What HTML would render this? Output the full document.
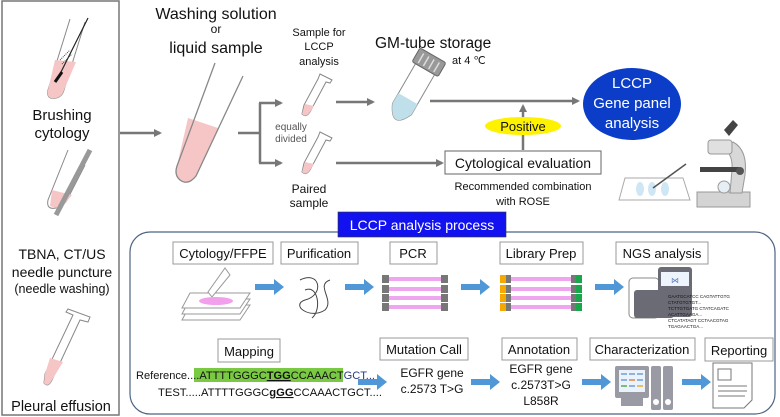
<!DOCTYPE html>
<html><head><meta charset="utf-8"><style>
html,body{margin:0;padding:0;background:#fff}
svg{display:block}
text{font-family:"Liberation Sans",Arial,sans-serif;fill:#111}
</style></head><body>
<svg width="780" height="417" viewBox="0 0 780 417" xmlns="http://www.w3.org/2000/svg">
<defs>
<marker id="ga" markerWidth="8" markerHeight="8" refX="6" refY="4" orient="auto" markerUnits="userSpaceOnUse"><path d="M0,0 L8,4 L0,8 z" fill="#777"/></marker>
</defs>
<!-- left panel -->
<rect x="2" y="1" width="117" height="414" fill="#fff" stroke="#777" stroke-width="1.5"/>
<path d="M70,19 L48,90 Q46,100 56,98 Q62,97 64,90 L85,22" fill="none" stroke="#888" stroke-width="1"/>
<path d="M55,60 L76,62 L64,90 Q62,97 56,98 Q46,100 48,90 z" fill="#f6c6c6"/>
<path d="M88,18 L57,80" stroke="#222" stroke-width="1.2"/>
<path d="M55,82 L62,72" stroke="#111" stroke-width="3"/>
<path d="M60,60 L70,50 M62,64 L72,54" stroke="#444" stroke-width="1" stroke-dasharray="1,1"/>
<path d="M68,150 L48,200 Q46,210 56,208 L66,202 M85,165 L66,202" fill="none" stroke="#888" stroke-width="1"/>
<path d="M52,190 L72,195 L64,205 Q58,210 50,206 z" fill="#f6c6c6"/>
<path d="M90,150 L56,215" stroke="#999" stroke-width="5"/>
<text x="62" y="120" font-size="15" text-anchor="middle">Brushing</text>
<text x="62" y="138" font-size="15" text-anchor="middle">cytology</text>
<text x="62" y="259" font-size="14" text-anchor="middle">TBNA, CT/US</text>
<text x="62" y="277" font-size="14" text-anchor="middle">needle puncture</text>
<text x="62" y="293" font-size="12.5" text-anchor="middle">(needle washing)</text>
<path d="M68,309 L90,317 L88,322 L80,320 L52,380 Q48,388 44,383 L45,374 L73,315 L66,312 z" fill="#fff" stroke="#888" stroke-width="1"/>
<path d="M50,358 L63,362 L52,380 Q48,388 44,383 L45,374 z" fill="#f6c6c6"/>
<text x="61" y="411" font-size="14.5" text-anchor="middle">Pleural effusion</text>
<line x1="120" y1="133" x2="160" y2="133" stroke="#777" stroke-width="2.5" marker-end="url(#ga)"/>
<text x="216" y="19" font-size="16" text-anchor="middle">Washing solution</text>
<text x="216" y="33" font-size="12" text-anchor="middle">or</text>
<text x="216" y="53" font-size="16" text-anchor="middle">liquid sample</text>
<path d="M188,118 L218,128 L196,176 Q188,186 180,180 Q174,175 177,166 z" fill="#f6c6c6"/>
<path d="M215,63 L177,166 Q174,175 180,180 Q188,186 196,176 L243,76" fill="none" stroke="#888" stroke-width="1.3"/>
<path d="M238,133 L260,133 M260,103 L260,163" stroke="#777" stroke-width="2.5" fill="none"/>
<line x1="259" y1="103" x2="281" y2="103" stroke="#777" stroke-width="2.5" marker-end="url(#ga)"/>
<line x1="259" y1="163" x2="281" y2="163" stroke="#777" stroke-width="2.5" marker-end="url(#ga)"/>
<g fill="#fff" stroke="#888" stroke-width="1">
<path d="M320,74 L332,80 L330,83 L326,82 L310,112 Q306,118 302,114 L304,105 L318,79 z"/>
<path d="M320,132 L332,138 L330,141 L326,140 L310,170 Q306,176 302,172 L304,163 L318,137 z"/>
</g>
<path d="M305,104 L314,106 L310,112 Q306,118 302,114 z" fill="#f6c6c6"/>
<path d="M305,162 L314,164 L310,170 Q306,176 302,172 z" fill="#f6c6c6"/>
<text x="319" y="36" font-size="11" text-anchor="middle">Sample for</text>
<text x="319" y="50" font-size="11" text-anchor="middle">LCCP</text>
<text x="319" y="65" font-size="11" text-anchor="middle">analysis</text>
<text x="291" y="130" font-size="10" text-anchor="middle" style="fill:#555">equally</text>
<text x="291" y="142" font-size="10" text-anchor="middle" style="fill:#555">divided</text>
<text x="309" y="193" font-size="12" text-anchor="middle">Paired</text>
<text x="309" y="207" font-size="12" text-anchor="middle">sample</text>
<line x1="336" y1="102" x2="373" y2="102" stroke="#777" stroke-width="2.5" marker-end="url(#ga)"/>
<!-- GM tube -->
<g transform="translate(428,64) rotate(30)">
<path d="M-11,6 L-11,52 Q0,76 11,52 L11,6 z" fill="#fff" stroke="#888" stroke-width="1"/>
<path d="M-11,40 L11,40 L11,52 Q0,76 -11,52 z" fill="#bfe0ea"/>
<rect x="-15" y="-10" width="30" height="16" rx="2" fill="#999" stroke="#666"/>
<g stroke="#ddd" stroke-width="1.5"><line x1="-9" y1="-7" x2="-9" y2="4"/><line x1="-3" y1="-7" x2="-3" y2="4"/><line x1="3" y1="-7" x2="3" y2="4"/><line x1="9" y1="-7" x2="9" y2="4"/></g>
</g>
<text x="375" y="48" font-size="15.5">GM-tube storage</text>
<text x="452" y="64" font-size="11">at 4 ℃</text>
<line x1="430" y1="101" x2="578" y2="101" stroke="#777" stroke-width="2.5" marker-end="url(#ga)"/>
<ellipse cx="632" cy="104" rx="49" ry="36" fill="#0b3dc8"/>
<text x="632" y="88" font-size="15" text-anchor="middle" style="fill:#fff">LCCP</text>
<text x="632" y="108" font-size="15" text-anchor="middle" style="fill:#fff">Gene panel</text>
<text x="632" y="128" font-size="15" text-anchor="middle" style="fill:#fff">analysis</text>
<line x1="336" y1="163" x2="442" y2="163" stroke="#777" stroke-width="2.5" marker-end="url(#ga)"/>
<rect x="445" y="151" width="156" height="23" fill="#fff" stroke="#666"/>
<text x="523" y="168" font-size="14" text-anchor="middle">Cytological evaluation</text>
<line x1="523" y1="150" x2="523" y2="106" stroke="#777" stroke-width="2.5" marker-end="url(#ga)"/>
<ellipse cx="523" cy="126" rx="38" ry="9" fill="#fff200"/>
<text x="523" y="131" font-size="13" text-anchor="middle">Positive</text>
<text x="523" y="190" font-size="11" text-anchor="middle">Recommended combination</text>
<text x="523" y="205" font-size="11" text-anchor="middle">with ROSE</text>
<!-- slide -->
<path d="M625,178 L683,178 L690,200 L619,200 z" fill="#fff" stroke="#aaa"/>
<ellipse cx="640" cy="189" rx="4" ry="7" fill="#cfe7f4"/><ellipse cx="652" cy="189" rx="4" ry="7" fill="#cfe7f4"/><ellipse cx="665" cy="189" rx="4" ry="7" fill="#cfe7f4"/>
<line x1="653" y1="188" x2="686" y2="164" stroke="#555" stroke-width="1.5"/>
<!-- microscope -->
<rect x="697" y="192" width="53" height="15" fill="#d4d4d4" stroke="#999"/>
<path d="M733,142 Q748,150 745,175 L742,193 L730,193 L732,170 Q733,155 725,150 z" fill="#d8d8d8" stroke="#999"/>
<rect x="708" y="140" width="24" height="14" rx="3" fill="#e0e0e0" stroke="#999"/>
<path d="M724,130 L733,120 L738,125 L729,136 z" fill="#444"/>
<rect x="700" y="167" width="40" height="5" fill="#444"/>
<circle cx="740" cy="171" r="4" fill="#555"/>
<circle cx="724" cy="187" r="6" fill="#e6eef6" stroke="#999"/>
<!-- panel -->
<rect x="130" y="232" width="645" height="182" rx="20" fill="#fff" stroke="#4d6582" stroke-width="1.2"/>
<rect x="338" y="212" width="168" height="25" fill="#1212f0" stroke="#333" stroke-width="0.6"/>
<text x="422" y="230" font-size="14" text-anchor="middle" style="fill:#fff">LCCP analysis process</text>
<g fill="#fff" stroke="#999">
<rect x="173" y="242" width="100" height="22"/>
<rect x="281" y="242" width="77" height="22"/>
<rect x="390" y="242" width="47" height="22"/>
<rect x="500" y="242" width="83" height="22"/>
<rect x="616" y="242" width="92" height="22"/>
<rect x="218" y="339" width="62" height="23"/>
<rect x="380" y="338" width="88" height="22"/>
<rect x="502" y="338" width="75" height="22"/>
<rect x="590" y="338" width="105" height="22"/>
<rect x="705" y="338" width="68" height="23"/>
</g>
<g font-size="13" text-anchor="middle">
<text x="223" y="258">Cytology/FFPE</text>
<text x="319" y="258">Purification</text>
<text x="413" y="258">PCR</text>
<text x="541" y="258">Library Prep</text>
<text x="662" y="258">NGS analysis</text>
<text x="249" y="356">Mapping</text>
<text x="424" y="354">Mutation Call</text>
<text x="539" y="354">Annotation</text>
<text x="642" y="354">Characterization</text>
<text x="739" y="355">Reporting</text>
</g>
<g fill="#4f97d6">
<path d="M255,284 L274,284 L274,279 L284,287 L274,295 L274,290 L255,290 z"/>
<path d="M345,284 L364,284 L364,279 L374,287 L364,295 L364,290 L345,290 z"/>
<path d="M461,284 L480,284 L480,279 L490,287 L480,295 L480,290 L461,290 z"/>
<path d="M595,284 L614,284 L614,279 L624,287 L614,295 L614,290 L595,290 z"/>
<path d="M358,379 L377,379 L377,374 L387,382 L377,390 L377,385 L358,385 z"/>
<path d="M471,379 L490,379 L490,374 L500,382 L490,390 L490,385 L471,385 z"/>
<path d="M582,379 L601,379 L601,374 L611,382 L601,390 L601,385 L582,385 z"/>
<path d="M682,379 L701,379 L701,374 L711,382 L701,390 L701,385 L682,385 z"/>
</g>
<g fill="#fff" stroke="#999">
<path d="M190,305 L250,305 L240,320 L182,320 z"/>
<path d="M190,299 L250,299 L240,314 L182,314 z"/>
<path d="M190,293 L250,293 L240,308 L182,308 z"/>
<path d="M225,268 L230,275 L212,297 L208,292 z"/>
</g>
<ellipse cx="216" cy="301" rx="17" ry="4" fill="#f2a0ec"/>
<path d="M300,280 C320,270 325,295 305,300 C290,305 310,320 325,310 C335,300 315,285 330,280 M305,290 C318,284 322,310 312,318" fill="none" stroke="#444" stroke-width="1"/>
<g>
<rect x="388" y="277" width="55" height="4" fill="#f0a6ee"/><rect x="388" y="287" width="55" height="4" fill="#f0a6ee"/><rect x="388" y="296" width="55" height="4" fill="#f0a6ee"/><rect x="388" y="305" width="55" height="4" fill="#f0a6ee"/>
<g fill="#777"><rect x="382" y="275" width="7" height="8"/><rect x="382" y="285" width="7" height="8"/><rect x="382" y="294" width="7" height="8"/><rect x="382" y="303" width="7" height="8"/>
<rect x="441" y="275" width="7" height="8"/><rect x="441" y="285" width="7" height="8"/><rect x="441" y="294" width="7" height="8"/><rect x="441" y="303" width="7" height="8"/></g>
</g>
<g>
<rect x="510" y="277" width="62" height="4" fill="#f0a6ee"/><rect x="510" y="287" width="62" height="4" fill="#f0a6ee"/><rect x="510" y="296" width="62" height="4" fill="#f0a6ee"/><rect x="510" y="305" width="62" height="4" fill="#f0a6ee"/>
<g fill="#f5a800"><rect x="500" y="275" width="6" height="8"/><rect x="500" y="285" width="6" height="8"/><rect x="500" y="294" width="6" height="8"/><rect x="500" y="303" width="6" height="8"/></g>
<g fill="#777"><rect x="506" y="275" width="5" height="8"/><rect x="506" y="285" width="5" height="8"/><rect x="506" y="294" width="5" height="8"/><rect x="506" y="303" width="5" height="8"/>
<rect x="571" y="275" width="5" height="8"/><rect x="571" y="285" width="5" height="8"/><rect x="571" y="294" width="5" height="8"/><rect x="571" y="303" width="5" height="8"/></g>
<g fill="#1aa64a"><rect x="576" y="275" width="6" height="8"/><rect x="576" y="285" width="6" height="8"/><rect x="576" y="294" width="6" height="8"/><rect x="576" y="303" width="6" height="8"/></g>
</g>
<rect x="629" y="278" width="30" height="40" rx="4" fill="#fff" stroke="#888"/>
<rect x="658" y="267" width="34" height="50" rx="3" fill="#6b6b75"/>
<rect x="634" y="290" width="40" height="28" rx="3" fill="#6b6b75"/>
<rect x="661" y="272" width="28" height="14" fill="#eef4fb"/>
<text x="675" y="283" font-size="8" text-anchor="middle" style="fill:#5a7fc0">⋈</text>
<g font-size="4.5" style="fill:#111">
<text x="668" y="298">GAATGCATCC CAGTATTGTG</text>
<text x="668" y="304">CTATGTGTGT...</text>
<text x="668" y="310">TCTTGTGATG CTATCAGATC</text>
<text x="668" y="316">ACATTGAAGA...</text>
<text x="668" y="322">CTCATATAGT CCTAACGTAG</text>
<text x="668" y="328">TGAGAACTGA...</text>
</g>
<rect x="194" y="368" width="149" height="14" fill="#7ac943"/>
<text x="136" y="379" font-size="11" textLength="239" lengthAdjust="spacingAndGlyphs">Reference....ATTTTGGGC<tspan font-weight="bold" text-decoration="underline">TGG</tspan>CCAAACT<tspan style="fill:#2a3a80">GCT...</tspan></text>
<text x="158" y="396" font-size="11" textLength="224" lengthAdjust="spacingAndGlyphs">TEST.....ATTTTGGGC<tspan font-weight="bold" text-decoration="underline">gGG</tspan>CCAAACTGCT....</text>
<text x="432" y="377" font-size="12" text-anchor="middle">EGFR gene</text>
<text x="432" y="393" font-size="12" text-anchor="middle">c.2573 T&gt;G</text>
<text x="541" y="373" font-size="12" text-anchor="middle">EGFR gene</text>
<text x="541" y="389" font-size="12" text-anchor="middle">c.2573T&gt;G</text>
<text x="541" y="405" font-size="12" text-anchor="middle">L858R</text>
<rect x="615" y="366" width="34" height="32" rx="2" fill="#9a9aa4"/>
<rect x="619" y="370" width="26" height="22" fill="#eaf2fb"/>
<g fill="#8fb2df"><rect x="621" y="373" width="6" height="2"/><rect x="629" y="373" width="6" height="2"/><rect x="637" y="373" width="6" height="2"/><rect x="621" y="379" width="6" height="2"/><rect x="629" y="379" width="6" height="2" fill="#e4a070"/><rect x="637" y="379" width="6" height="2"/><rect x="621" y="385" width="6" height="2" fill="#7ac070"/><rect x="629" y="385" width="6" height="2"/><rect x="637" y="385" width="6" height="2" fill="#e8c060"/></g>
<rect x="621" y="398" width="22" height="8" fill="#9a9aa4"/>
<rect x="651" y="366" width="10" height="44" rx="2" fill="#9a9aa4"/>
<rect x="663" y="366" width="10" height="44" rx="2" fill="#9a9aa4"/>
<circle cx="656" cy="402" r="3" fill="#fff"/><circle cx="668" cy="402" r="3" fill="#fff"/>
<path d="M713,363 L752,363 L752,400 L744,408 L713,408 z" fill="#fff" stroke="#777"/>
<rect x="718" y="369" width="13" height="11" fill="#fff" stroke="#777"/>
<g stroke="#777"><line x1="718" y1="386" x2="747" y2="386"/><line x1="718" y1="391" x2="747" y2="391"/><line x1="718" y1="396" x2="745" y2="396"/></g>
</svg>
</body></html>
